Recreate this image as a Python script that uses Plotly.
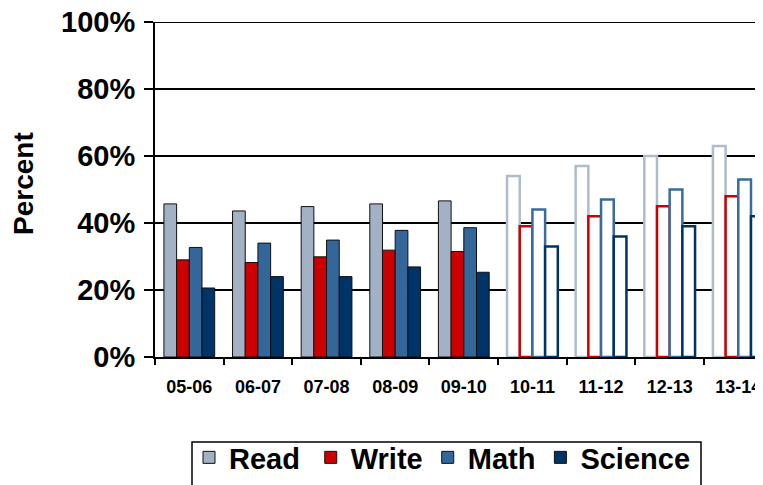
import plotly.graph_objects as go

years = ["05-06", "06-07", "07-08", "08-09", "09-10", "10-11", "11-12", "12-13", "13-14"]
read = [45.7, 43.6, 44.9, 45.7, 46.6, 54, 57, 60, 63]
write = [29.0, 28.2, 29.9, 31.9, 31.5, 39, 42, 45, 48]
math = [32.7, 34.0, 34.9, 37.8, 38.6, 44, 47, 50, 53]
science = [20.6, 24.0, 24.0, 26.9, 25.3, 33, 36, 39, 42]
n_actual = 5  # first 5 years are filled; the rest drawn hollow
y_ticks = [0, 20, 40, 60, 80, 100]
y_labels = ["0%", "20%", "40%", "60%", "80%", "100%"]

series = [
    ("Read", read, "#A2B1C4", "#AEBCCB"),
    ("Write", write, "#CC0000", "#CC0000"),
    ("Math", math, "#336699", "#3A6B9D"),
    ("Science", science, "#003366", "#003366"),
]
legend_pad = {"Read": "\u2009", "Write": "", "Math": "", "Science": ""}

FONT = "Arial, Liberation Sans, sans-serif"
# page body has an 8px margin: plot area placed so it lands at x 155-763, y 22-357
L, T, PW, PH = 147, 14, 608, 335
W, H = 763, 485

def px(X):
    return (X - 155) / PW

def py(Y):
    return (357 - Y) / PH

fig = go.Figure()
for name, vals, fill, outline in series:
    n = len(vals)
    fills = [fill if i < n_actual else "white" for i in range(n)]
    lcols = ["#111111" if i < n_actual else outline for i in range(n)]
    lw = [1 if i < n_actual else 2.5 for i in range(n)]
    fig.add_trace(go.Bar(
        x=years, y=vals, name=name + legend_pad[name],
        marker=dict(color=fills, line=dict(color=lcols, width=lw)),
    ))

fig.update_layout(
    width=W, height=H,
    margin=dict(l=L, r=W - L - PW, t=T, b=H - T - PH, autoexpand=False),
    paper_bgcolor="white", plot_bgcolor="white",
    barmode="group", bargap=0.26, bargroupgap=0,
    font=dict(family=FONT, color="black"),
    showlegend=True,
    legend=dict(
        orientation="h", x=px(189), xanchor="left",
        y=py(432), yanchor="top",
        font=dict(size=29, family=FONT, weight="bold", color="black"),
        borderwidth=0, bgcolor="rgba(0,0,0,0)",
        traceorder="normal",
    ),
    shapes=[
        dict(type="rect", xref="paper", yref="paper",
             x0=px(192), x1=px(701), y0=py(442), y1=py(500),
             line=dict(color="black", width=1.5), fillcolor="rgba(0,0,0,0)", layer="below"),
        # top gridline at 100%
        dict(type="line", xref="paper", yref="y", x0=0, x1=1, y0=y_ticks[-1], y1=y_ticks[-1],
             line=dict(color="black", width=2), layer="below"),
    ],
    annotations=[dict(
        text="Percent", textangle=-90, xref="paper", yref="paper",
        x=px(23), y=py(184), xanchor="center", yanchor="middle", showarrow=False,
        font=dict(size=28, family=FONT, weight="bold", color="black"),
    )],
)
fig.update_xaxes(
    type="category", range=[-0.5, 8.36],
    showline=True, linecolor="black", linewidth=2,
    ticks="outside", tickson="boundaries", ticklen=6, tickcolor="black", tickwidth=1.5,
    tickfont=dict(size=18, family=FONT, weight="bold", color="black"),
    ticklabelstandoff=12,
    showgrid=False,
)
fig.update_yaxes(
    range=[0, 100], tickmode="array", tickvals=y_ticks, ticktext=y_labels,
    ticklabeloverflow="allow",
    showline=True, linecolor="black", linewidth=2,
    ticks="outside", ticklen=9, tickcolor="black", tickwidth=1.5,
    tickfont=dict(size=29, family=FONT, weight="bold", color="black"),
    ticklabelstandoff=3,
    showgrid=True, gridcolor="black", gridwidth=1.5, zeroline=False,
)

fig.write_html("out.html")
